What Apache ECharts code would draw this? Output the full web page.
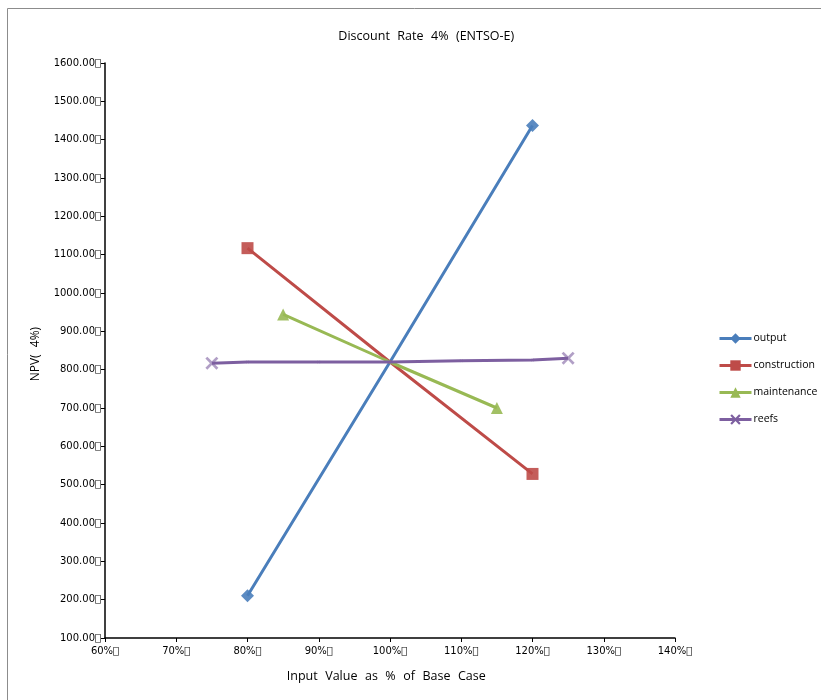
<!DOCTYPE html>
<html>
<head>
<meta charset="utf-8">
<script src="https://cdn.jsdelivr.net/npm/echarts@6/dist/echarts.min.js"></script>
<style>html,body{margin:0;padding:0;background:#fff}#c{width:821px;height:700px}</style>
</head>
<body>
<div id="c"></div>
<script>
var T = '\uF020';
var titleText = 'Discount' + T + 'Rate' + T + '4%' + T + '(ENTSO-E)' + T;
var xName = 'Input' + T + 'Value' + T + 'as' + T + '%' + T + 'of' + T + 'Base' + T + 'Case' + T;
var yName = 'NPV(' + T + '4%)' + T;
var seriesNames = ['output' + T, 'construction' + T, 'maintenance' + T, 'reefs' + T];
var xTicks = [60, 70, 80, 90, 100, 110, 120, 130, 140];

var outputX = [80, 100, 120];
var outputY = [210, 820, 1437];
var constructionX = [80, 100, 120];
var constructionY = [1117, 820, 528];
var maintenanceX = [85, 100, 115];
var maintenanceY = [944, 820, 700];
var reefsX = [75, 80, 90, 100, 110, 120, 125];
var reefsY = [817, 820, 820, 820, 823, 825, 830];

var colors = ['#4A7EBB', '#BE4B48', '#98B954', '#7D5FA0'];
var xPath = 'path://M0,1.5 L1.5,0 L5,3.5 L8.5,0 L10,1.5 L6.5,5 L10,8.5 L8.5,10 L5,6.5 L1.5,10 L0,8.5 L3.5,5 Z';
var symbols = ['diamond', 'rect', 'triangle', xPath];
var bigSizes = [13, 12, 12, 13];

function build(xs, ys, idx) {
  return xs.map(function (x, i) {
    var end = (i === 0 || i === xs.length - 1);
    return {
      value: [x, ys[i]],
      symbolSize: end ? bigSizes[idx] : 3,
      itemStyle: end ? {opacity: idx === 3 ? 0.6 : 0.9} : {opacity: 0.6}
    };
  });
}
var allX = [outputX, constructionX, maintenanceX, reefsX];
var allY = [outputY, constructionY, maintenanceY, reefsY];

var chart = echarts.init(document.getElementById('c'), null, {renderer: 'canvas'});
chart.setOption({
  animation: false,
  backgroundColor: '#fff',
  graphic: [{
    type: 'rect', shape: {x: 7.5, y: 8.5, width: 900, height: 800},
    style: {fill: 'none', stroke: '#8c8c8c', lineWidth: 1}, z: -1
  }],
  title: {
    text: titleText, left: 425, top: 25, textAlign: 'center',
    textStyle: {fontFamily: 'Open Sans', fontSize: 12.5, fontWeight: 'normal', color: '#000'}
  },
  legend: {
    orient: 'vertical', left: 713, top: 326, itemGap: 12,
    itemWidth: 32, itemHeight: 13,
    lineStyle: {width: 3},
    textStyle: {fontFamily: 'Open Sans', fontSize: 10.5, color: '#000', padding: [0, 0, 0, -3], lineHeight: 15},
    data: seriesNames
  },
  grid: {left: 105, right: 146, top: 63, bottom: 62, containLabel: false},
  xAxis: {
    type: 'value', min: 60, max: 140, interval: 10,
    name: xName, nameLocation: 'middle', nameGap: 32,
    nameTextStyle: {fontFamily: 'Open Sans', fontSize: 12.5, color: '#000'},
    axisLine: {lineStyle: {color: '#000', width: 1.5}},
    axisTick: {length: 4, lineStyle: {color: '#000'}},
    splitLine: {show: false},
    axisLabel: {
      fontFamily: 'DejaVu Sans', fontSize: 10, color: '#000', margin: 8,
      formatter: function (v) { return v + '%' + T; }
    }
  },
  yAxis: {
    type: 'value', min: 100, max: 1600, interval: 100,
    name: yName, nameLocation: 'middle', nameGap: 63, nameRotate: 90,
    nameTextStyle: {fontFamily: 'Open Sans', fontSize: 12, color: '#000'},
    axisLine: {show: true, lineStyle: {color: '#000', width: 1.5}},
    axisTick: {show: true, length: 4, lineStyle: {color: '#000'}},
    splitLine: {show: false},
    axisLabel: {
      fontFamily: 'DejaVu Sans', fontSize: 10, color: '#000', margin: 4,
      formatter: function (v) { return v.toFixed(2) + T; }
    }
  },
  series: seriesNames.map(function (n, i) {
    return {
      name: n, type: 'line', data: build(allX[i], allY[i], i),
      symbol: symbols[i], symbolSize: 7, showAllSymbol: true,
      color: colors[i],
      lineStyle: {width: 3, color: colors[i]},
      itemStyle: {color: colors[i]},
      z: 2 + i
    };
  })
});
</script>
</body>
</html>
